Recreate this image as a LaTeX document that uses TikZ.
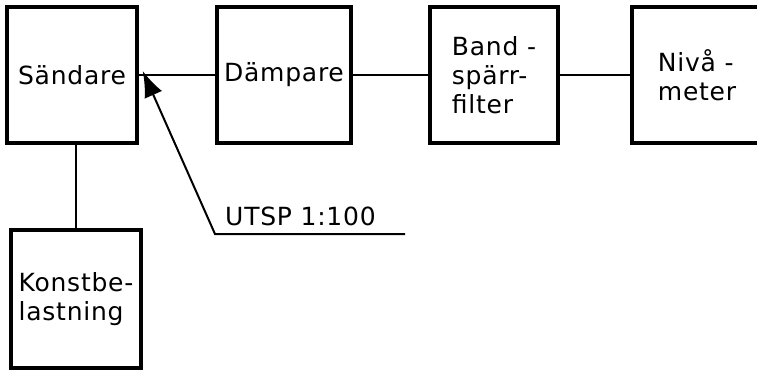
\documentclass[tikz,border=0pt]{standalone}
\usepackage{fontspec}
\setmainfont{DejaVu Sans}[LetterSpace=3]
\usetikzlibrary{arrows.meta}
\begin{document}
\begin{tikzpicture}[x=1pt,y=-1pt,
  blk/.style={draw,line width=3.5pt,rectangle,minimum height=136pt,inner sep=0pt,align=left,font=\fontsize{25}{29}\selectfont},
  wire/.style={line width=2pt},
  lbl/.style={font=\fontsize{25}{29}\selectfont,inner sep=0pt}]
\useasboundingbox (0,0) rectangle (757,370);
\clip (0,0) rectangle (757,370);
\node[blk,minimum width=130pt] (s) at (72,75) {Sändare};
\node[blk,minimum width=134pt] (d) at (284,75) {Dämpare};
\node[blk,minimum width=128pt] (b) at (494,75) {Band -\\spärr-\\filter};
\node[blk,minimum width=130pt] (n) at (697,75) {Nivå -\\meter};
\node[blk,minimum width=130pt,minimum height=138pt] (k) at (76,299) {Konstbe-\\lastning};
\draw[wire] (s.east) -- (d.west);
\draw[wire] (d.east) -- (b.west);
\draw[wire] (b.east) -- (n.west);
\draw[wire] (k.north |- s.south) -- (k.north);
\coordinate (u1) at (215,234);
\coordinate (u2) at (405,234);
\coordinate (tip) at ([xshift=4pt,yshift=4pt]s.east);
\draw[wire,-{Latex[length=26pt,width=19pt]}] (u2) -- (u1) -- (tip);
\node[lbl,anchor=base west] (ut) at (225,225) {UTSP 1:100};
\end{tikzpicture}
\end{document}
